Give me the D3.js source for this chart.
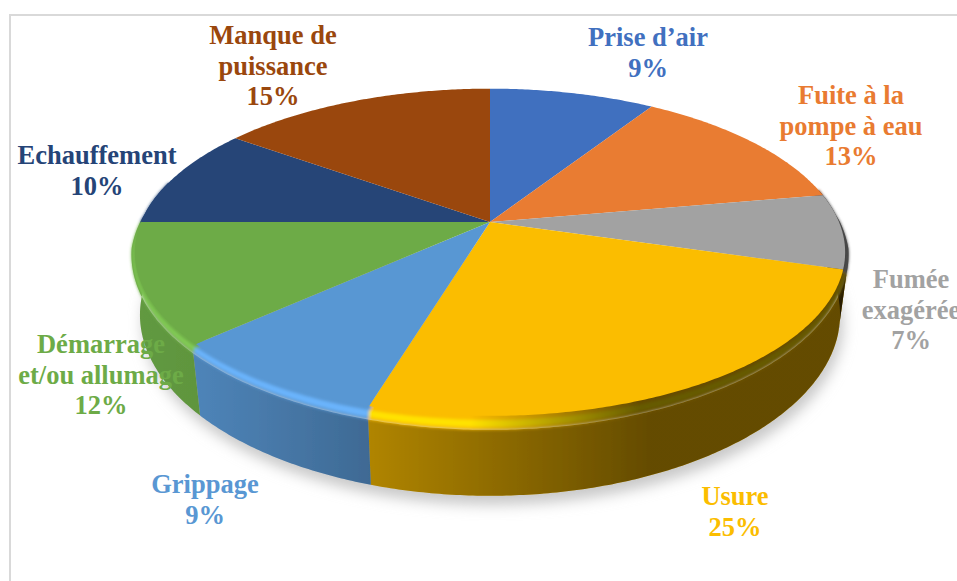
<!DOCTYPE html>
<html>
<head>
<meta charset="utf-8">
<script src="https://cdn.jsdelivr.net/npm/d3@7"></script>
<style>
html, body { margin: 0; background: #fff; overflow: hidden; }
text { font-family: "Liberation Serif", serif; font-weight: bold; font-size: 26.5px; text-anchor: middle; }
</style>
</head>
<body>
<svg id="chart" width="957" height="581"></svg>
<script>
// Values (percent of the whole, clockwise from 12 o'clock)
const categories = ["Prise d’air", "Fuite à la pompe à eau", "Fumée exagérée", "Usure", "Grippage", "Démarrage et/ou allumage", "Echauffement", "Manque de puissance"];
const values = [9.0, 13.2, 7.4, 25.0, 8.6, 11.8, 10.0, 15.0];
const colors = ["#4170bf", "#e97b31", "#a2a2a2", "#fbbd00", "#5997d3", "#6dab47", "#254477", "#9a470d"];

// label lines, centre x and first baseline
const labelLines = [["Prise d’air"], ["Fuite à la", "pompe à eau"], ["Fumée", "exagérée"], ["Usure"], ["Grippage"], ["Démarrage", "et/ou allumage"], ["Echauffement"], ["Manque de", "puissance"]];
const labelX = [648, 851, 911, 735, 205, 101, 97, 273];
const labelY = [46, 104, 288, 505, 493, 353, 164, 44];

const svg = d3.select("#chart");
const defs = svg.append("defs");
const cx = 490, cy = 222;

["1.8", "0.5", "7"].forEach((s, i) => {
    defs.append("filter").attr("id", "blur" + i)
        .attr("x", "-10%").attr("y", "-10%").attr("width", "120%").attr("height", "120%")
        .append("feGaussianBlur").attr("stdDeviation", s);
});

// wall shading, dark towards the right
const wallShade = defs.append("linearGradient").attr("id", "wallShade")
    .attr("gradientUnits", "userSpaceOnUse").attr("x1", 130).attr("x2", 850).attr("y1", 0).attr("y2", 0);
[[130, .1], [200, .13], [370, .3], [650, .6], [850, .6]].forEach(d => {
    wallShade.append("stop").attr("offset", (d[0] - 130) / 720).attr("stop-color", "#000").attr("stop-opacity", d[1]);
});
const ringShade = defs.append("linearGradient").attr("id", "ringShade")
    .attr("gradientUnits", "userSpaceOnUse").attr("x1", 130).attr("x2", 850).attr("y1", 0).attr("y2", 0);
[[130, 0], [470, 0], [640, .6], [850, .6]].forEach(d => {
    ringShade.append("stop").attr("offset", (d[0] - 130) / 720).attr("stop-color", "#000").attr("stop-opacity", d[1]);
});

// perspective projection of the three rims of the disc
function flat(a) {
    const u = -Math.cos(a), d = 1 - 0.185 * u;
    return [cx + 349 * Math.sin(a) / d, cy + 158 * u / d];
}
function outer(a) {
    const u = -Math.cos(a), s = Math.sin(a), p = flat(a);
    const t = Math.max(0, Math.min(1, (u + 0.05) / 0.2));
    return [p[0] + s * (s < 0 ? 3.5 : 3.5) * t, p[1] + 14 * Math.max(0, u)];
}
function bottom(a) {
    const u = -Math.cos(a);
    return [cx + 344 * Math.sin(a) / (1 - 0.185 * u), cy + 60 + 171 * u / (1 - 0.2 * u)];
}
// point between the flat rim and the bevel edge
const rimMix = k => a => d3.interpolate(flat(a), outer(a))(k);
// just inside the flat rim, so the blurred bevel runs under the top face
const inner = a => { const p = flat(a); return [cx + (p[0] - cx) * 0.97, cy + (p[1] - cy) * 0.97]; };

function arcPoints(fn, a0, a1) {
    const n = Math.max(2, Math.ceil((a1 - a0) / 0.01));
    return d3.range(n + 1).map(i => fn(a0 + (a1 - a0) * i / n));
}
const line = d3.line();
const closed = pts => line(pts) + "Z";

const pie = d3.pie().sort(null).value(d => d);
const slices = pie(values);

const wallFrom = 78 * Math.PI / 180, wallTo = 285 * Math.PI / 180;
const front = d => [Math.max(d.startAngle, wallFrom), Math.min(d.endAngle, wallTo)];
const band = (fnA, fnB) => d => {
    const r = front(d);
    if (r[1] <= r[0]) return null;
    return closed(arcPoints(fnA, r[0], r[1]).concat(arcPoints(fnB, r[0], r[1]).reverse()));
};
const wallPath = band(outer, bottom);
const ringPath = band(outer, inner);
const glowPath = band(rimMix(0.8), rimMix(0.3));
const frontSlices = slices.filter(d => wallPath(d));

// page frame
svg.append("path").attr("d", "M10,581V15H957").attr("fill", "none").attr("stroke", "#d9d9d9").attr("stroke-width", 2);

// soft shadow
svg.append("path")
    .attr("d", closed(arcPoints(a => { const p = bottom(a); return [p[0] + 3, p[1] + 9]; }, wallFrom, wallTo)))
    .attr("fill", "#c8c8c8").attr("filter", "url(#blur2)");

// side wall
const wall = svg.append("g").attr("filter", "url(#blur1)");
wall.selectAll("path.base").data(frontSlices).enter().append("path").attr("class", "base")
    .attr("d", wallPath).attr("fill", d => colors[d.index]);
wall.selectAll("path.shade").data(frontSlices).enter().append("path").attr("class", "shade")
    .attr("d", wallPath).attr("fill", "url(#wallShade)");

// bevel, with a light band along its middle
const ring = svg.append("g").attr("filter", "url(#blur0)");
ring.selectAll("path.base").data(frontSlices).enter().append("path").attr("class", "base")
    .attr("d", ringPath).attr("fill", d => colors[d.index]);
ring.selectAll("path.glow").data(frontSlices).enter().append("path").attr("class", "glow")
    .attr("d", glowPath).attr("fill", d => d3.color(colors[d.index]).brighter(0.5));
ring.selectAll("path.shade").data(frontSlices).enter().append("path").attr("class", "shade")
    .attr("d", ringPath).attr("fill", "url(#ringShade)");

// top face
svg.append("g").attr("filter", "url(#blur1)")
    .selectAll("path").data(slices).enter().append("path")
    .attr("d", d => closed([[cx, cy]].concat(arcPoints(flat, d.startAngle, d.endAngle))))
    .attr("fill", d => colors[d.index]);

// data labels
const fmt = d3.format(".0f");
const labels = svg.append("g").selectAll("text").data(values).enter().append("text")
    .attr("fill", (d, i) => colors[i])
    .attr("x", (d, i) => labelX[i])
    .attr("y", (d, i) => labelY[i]);
labels.each(function(d, i) {
    const t = d3.select(this);
    labelLines[i].concat([fmt(d) + "%"]).forEach((s, j) => {
        t.append("tspan").attr("x", labelX[i]).attr("y", labelY[i] + j * 30.6).text(s);
    });
});
</script>
</body>
</html>
